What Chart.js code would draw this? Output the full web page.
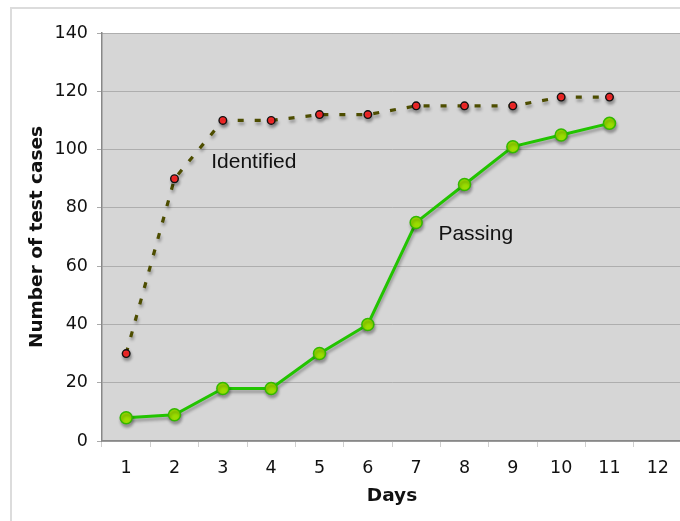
<!DOCTYPE html>
<html>
<head>
<meta charset="utf-8">
<script src="https://cdn.jsdelivr.net/npm/chart.js@4.4.0/dist/chart.umd.min.js"></script>
<style>
  html, body { margin: 0; padding: 0; background: #fff; overflow: hidden; width: 680px; height: 521px; }
  #frame { position: absolute; left: 10px; top: 7px; width: 800px; height: 700px; border: 2px solid #dcdcdc; box-sizing: border-box; }
  #wrap { position: absolute; left: 0; top: 0; width: 700px; height: 521px; }
</style>
</head>
<body>
<div id="frame"></div>
<div id="wrap"><canvas id="c"></canvas></div>
<script>
const days = ['1','2','3','4','5','6','7','8','9','10','11','12'];
const identified = [30, 90, 110, 110, 112, 112, 115, 115, 115, 118, 118];
const passing = [8, 9, 18, 18, 30, 40, 75, 88, 101, 105, 109];
const yTicksMax = 140;
const yTicksStep = 20;
const seriesLabels = [
  { text: 'Identified', x: 1.76, y: 95.7 },
  { text: 'Passing', x: 6.46, y: 71 }
];

const plotBg = {
  id: 'plotBg',
  beforeDraw(chart) {
    const { ctx, chartArea: a } = chart;
    ctx.save();
    ctx.fillStyle = '#d6d6d6';
    ctx.fillRect(a.left, a.top, a.right - a.left, a.bottom - a.top);
    ctx.strokeStyle = '#a8a8a8';
    ctx.lineWidth = 1;
    ctx.beginPath();
    ctx.moveTo(a.left, a.top + 0.5);
    ctx.lineTo(a.right, a.top + 0.5);
    ctx.stroke();
    ctx.restore();
  }
};

const shadow = {
  id: 'shadow',
  beforeDatasetDraw(chart) {
    const ctx = chart.ctx;
    ctx.save();
    ctx.shadowColor = 'rgba(0,0,0,0.3)';
    ctx.shadowBlur = 3;
    ctx.shadowOffsetX = 1;
    ctx.shadowOffsetY = 3;
  },
  afterDatasetDraw(chart) {
    chart.ctx.restore();
  }
};

const textLabels = {
  id: 'textLabels',
  afterDatasetsDraw(chart) {
    const { ctx, scales } = chart;
    ctx.save();
    ctx.fillStyle = '#111';
    ctx.font = '21px "Liberation Sans", Arial, sans-serif';
    ctx.textAlign = 'left';
    ctx.textBaseline = 'middle';
    seriesLabels.forEach(l => {
      ctx.fillText(l.text, scales.x.getPixelForValue(l.x), scales.y.getPixelForValue(l.y));
    });
    ctx.restore();
  }
};

const tickFont = { family: '"DejaVu Sans", Verdana, sans-serif', size: 17.5 };
const titleFont = { family: '"DejaVu Sans", Verdana, sans-serif', size: 18.5, weight: 'bold' };

new Chart(document.getElementById('c'), {
  type: 'line',
  data: {
    labels: days,
    datasets: [
      {
        label: 'Identified',
        data: identified,
        borderColor: '#4d4d00',
        borderWidth: 3.2,
        borderDash: [6, 11],
        borderCapStyle: 'butt',
        pointRadius: 3.8,
        pointBackgroundColor: '#ff2a2a',
        pointBorderColor: '#111',
        pointBorderWidth: 1.4,
        tension: 0,
        fill: false
      },
      {
        label: 'Passing',
        data: passing,
        borderColor: '#22c400',
        borderWidth: 3,
        pointRadius: 6,
        pointBackgroundColor: '#99dd00',
        pointBorderColor: '#33b800',
        pointBorderWidth: 1.5,
        tension: 0,
        fill: false
      }
    ]
  },
  options: {
    responsive: true,
    maintainAspectRatio: false,
    animation: false,
    devicePixelRatio: 1,
    layout: { padding: { top: 33, right: 18, left: 0, bottom: 0 } },
    plugins: { legend: { display: false }, tooltip: { enabled: false } },
    scales: {
      x: {
        type: 'category',
        offset: true,
        afterFit(s) { s.height = 80; },
        grid: { display: true, drawOnChartArea: false, drawTicks: true, offset: true, tickLength: 6, tickColor: '#cfcfcf' },
        border: { display: true, color: '#888', width: 1.5 },
        ticks: { color: '#111', font: tickFont, padding: 11, maxRotation: 0, autoSkip: false },
        title: { display: true, text: 'Days', color: '#111', font: titleFont, padding: { top: 0, bottom: 14 } }
      },
      y: {
        min: 0,
        max: yTicksMax,
        afterFit(s) { s.width = 102; },
        grid: { color: '#aeaeae', lineWidth: 1, drawTicks: true, tickLength: 5, tickColor: '#aaa' },
        border: { display: true, color: '#888', width: 1.5 },
        ticks: { stepSize: yTicksStep, color: '#111', font: tickFont, padding: 9 },
        title: { display: true, text: 'Number of test cases', color: '#111', font: titleFont, padding: { top: 26, bottom: 0 } }
      }
    }
  },
  plugins: [plotBg, shadow, textLabels]
});
</script>
</body>
</html>
